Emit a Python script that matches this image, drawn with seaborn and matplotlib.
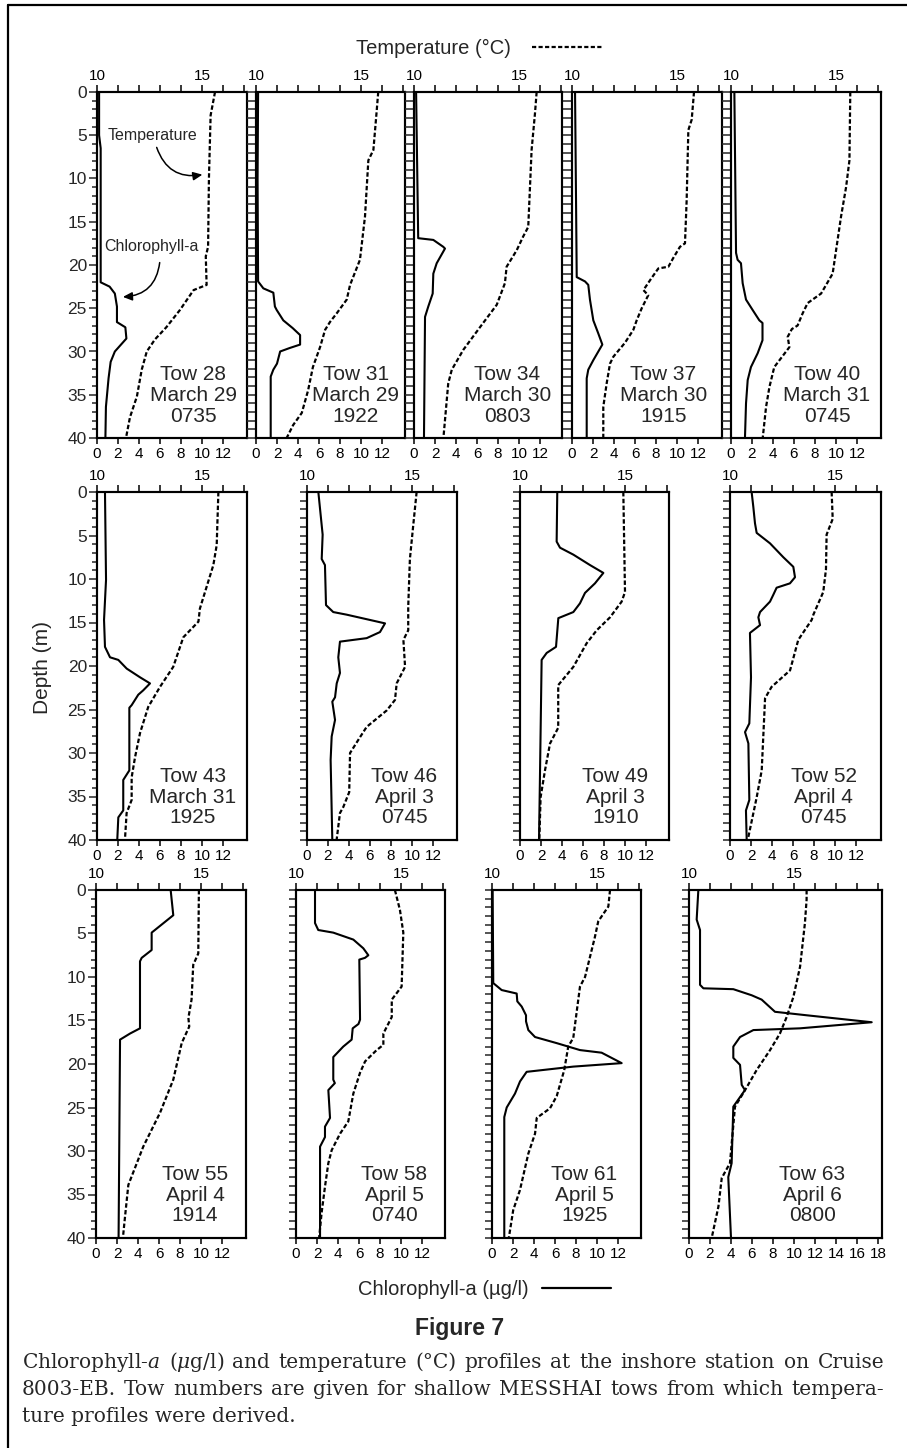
import numpy as np
import matplotlib
matplotlib.use("Agg")
import matplotlib.pyplot as plt
from matplotlib.lines import Line2D
import seaborn as sns

sns.set_style("ticks")
plt.rcParams["font.family"] = ["Liberation Sans", "DejaVu Sans"]
plt.rcParams["lines.scale_dashes"] = False
plt.rcParams["mathtext.fontset"] = "custom"
plt.rcParams["mathtext.rm"] = "DejaVu Serif"
plt.rcParams["mathtext.it"] = "DejaVu Serif:italic"

# ---------------------------------------------------------------- data
tows = [28, 31, 34, 37, 40, 43, 46, 49, 52, 55, 58, 61, 63]
dates = ["March 29", "March 29", "March 30", "March 30", "March 31",
         "March 31", "April 3", "April 3", "April 4",
         "April 4", "April 5", "April 5", "April 6"]
times = ["0735", "1922", "0803", "1915", "0745",
         "1925", "0745", "1910", "0745",
         "1914", "0740", "1925", "0800"]

# chlorophyll-a (ug/l) and temperature (C) against depth (m)
t28_chl_z = [0, 5, 6.5, 22.0, 22.5, 23.3, 24.8, 26.6, 27.2, 28.5, 30.0, 31.2, 33.1, 36.4, 40]
t28_chl = [0.2, 0.2, 0.35, 0.35, 1.2, 1.7, 1.9, 1.9, 2.7, 2.8, 1.7, 1.3, 1.1, 0.85, 0.8]
t28_temp_z = [0, 2.7, 10, 17.9, 19.0, 22.3, 22.9, 25.2, 27.2, 28.6, 30.0, 32.1, 35.2, 37.6, 40]
t28_temp = [15.62, 15.41, 15.33, 15.29, 15.18, 15.22, 14.6, 13.95, 13.3, 12.76, 12.37, 12.13, 11.9, 11.57, 11.38]

t31_chl_z = [0, 10, 21.9, 22.7, 23.2, 24.8, 25.2, 26.4, 27.3, 28.1, 29.2, 29.6, 30.0, 31.4, 32.1, 32.9, 40]
t31_chl = [0.2, 0.15, 0.2, 0.7, 1.65, 1.8, 1.97, 2.6, 3.5, 4.2, 4.2, 3.2, 2.3, 2.0, 1.65, 1.4, 1.4]
t31_temp_z = [0, 2.1, 6.7, 7.9, 14.4, 19.4, 22.3, 24.0, 25.6, 26.6, 27.5, 29.5, 31.8, 34.5, 37.1, 38.5, 40]
t31_temp = [15.82, 15.75, 15.59, 15.35, 15.19, 14.95, 14.48, 14.32, 13.84, 13.52, 13.29, 13.05, 12.71, 12.48, 12.18, 11.77, 11.46]

t34_chl_z = [0, 16.9, 17.1, 17.9, 18.1, 19.8, 21.0, 23.3, 24.8, 26.0, 40]
t34_chl = [0.2, 0.4, 1.84, 2.79, 2.95, 2.16, 1.84, 1.78, 1.36, 1.05, 0.95]
t34_temp_z = [0, 2.5, 6.7, 15.6, 16.7, 18.3, 20.2, 22.1, 24.6, 27.2, 29.8, 32.1, 33.7, 40]
t34_temp = [15.84, 15.76, 15.6, 15.44, 15.2, 14.89, 14.41, 14.33, 13.94, 13.14, 12.35, 11.8, 11.63, 11.4]

t37_chl_z = [0, 21.4, 21.9, 22.3, 24.0, 26.4, 27.9, 29.2, 31.0, 32.1, 33.1, 40]
t37_chl = [0.29, 0.45, 1.24, 1.55, 1.71, 2.03, 2.5, 2.89, 2.03, 1.55, 1.4, 1.4]
t37_temp_z = [0, 3.2, 4.4, 12.5, 17.5, 17.9, 19.2, 20.2, 20.4, 21.5, 22.9, 23.5, 25.0, 26.4, 27.5,
              29.0, 30.6, 31.4, 33.7, 36.4, 40]
t37_temp = [15.81, 15.7, 15.54, 15.46, 15.38, 15.14, 14.82, 14.59, 14.11, 13.79, 13.4, 13.63, 13.32,
            13.08, 12.92, 12.52, 11.97, 11.81, 11.65, 11.49, 11.49]

t40_chl_z = [0, 18.6, 19.4, 19.8, 22.1, 24.0, 25.2, 26.4, 26.7, 28.7, 30.2, 31.8, 33.3, 36.0, 40]
t40_chl = [0.32, 0.48, 0.63, 0.95, 1.11, 1.43, 2.06, 2.7, 3.0, 3.0, 2.54, 1.9, 1.59, 1.43, 1.33]
t40_temp_z = [0, 7.9, 11.0, 14.4, 21.0, 23.3, 24.4, 25.6, 27.0, 27.4, 28.3, 29.5, 31.8, 34.1, 36.4, 40]
t40_temp = [15.68, 15.64, 15.48, 15.24, 14.84, 14.29, 13.65, 13.41, 13.17, 12.9, 12.7, 12.78, 12.06,
            11.83, 11.67, 11.51]

t43_chl_z = [0, 10.1, 14.7, 17.8, 19.0, 19.3, 20.3, 21.3, 22.0, 22.8, 23.3, 24.5, 24.8, 32.0, 33.1,
             36.6, 37.4, 40]
t43_chl = [0.76, 0.86, 0.67, 0.76, 1.24, 2.03, 2.83, 4.1, 5.05, 4.4, 3.93, 3.3, 3.08, 3.08, 2.5,
           2.5, 2.03, 1.93]
t43_temp_z = [0, 6.1, 8.4, 13.4, 14.9, 16.7, 20.1, 22.4, 24.7, 27.7, 30.5, 32.8, 35.4, 36.9, 40]
t43_temp = [15.78, 15.7, 15.54, 14.9, 14.83, 14.11, 13.63, 13.0, 12.44, 12.05, 11.81, 11.65, 11.65,
            11.41, 11.33]

t46_chl_z = [0, 4.9, 7.7, 8.4, 13.0, 13.8, 14.1, 15.1, 16.1, 16.8, 17.2, 19.0, 20.8, 22.0, 23.6,
             24.1, 26.2, 28.1, 30.8, 40]
t46_chl = [1.08, 1.49, 1.4, 1.71, 1.81, 2.5, 3.78, 7.43, 6.95, 5.68, 3.14, 2.98, 3.14, 2.83, 2.67,
           2.41, 2.67, 2.35, 2.25, 2.41]
t46_temp_z = [0, 3.8, 7.7, 13.2, 15.9, 17.0, 20.1, 22.0, 23.9, 25.1, 27.0, 28.2, 30.0, 34.5, 36.2,
              36.9, 40]
t46_temp = [15.22, 15.06, 14.9, 14.82, 14.82, 14.59, 14.67, 14.27, 14.19, 13.8, 12.84, 12.52, 12.05,
            12.01, 11.73, 11.57, 11.41]

t49_chl_z = [0, 5.7, 6.4, 7.2, 8.4, 9.3, 10.5, 11.6, 12.8, 13.8, 14.5, 17.8, 18.5, 19.3, 32.8, 40]
t49_chl = [3.55, 3.49, 3.81, 5.08, 6.67, 7.94, 7.14, 6.19, 5.71, 5.08, 3.65, 3.43, 2.54, 2.06, 1.9, 1.81]
t49_temp_z = [0, 11.5, 12.6, 14.4, 15.9, 17.4, 20.1, 22.2, 27.1, 28.9, 32.0, 35.1, 40]
t49_temp = [14.92, 15.0, 14.84, 14.29, 13.65, 13.17, 12.54, 11.82, 11.82, 11.43, 11.19, 10.98, 10.92]

t52_chl_z = [0, 1.7, 3.6, 4.7, 5.9, 7.5, 8.6, 9.8, 10.5, 11.0, 11.8, 12.6, 13.8, 14.4, 15.3, 16.2,
             21.3, 26.6, 27.6, 28.9, 35.4, 36.6, 40]
t52_chl = [2.06, 2.22, 2.38, 2.54, 3.81, 5.08, 6.03, 6.19, 5.71, 4.44, 4.13, 3.81, 2.86, 2.7, 2.86,
           1.9, 2.0, 1.84, 1.43, 1.75, 1.84, 1.52, 1.59]
t52_temp_z = [0, 3.1, 4.9, 8.9, 11.5, 14.1, 14.7, 17.0, 20.5, 22.4, 23.7, 32.0, 35.1, 39.7, 40]
t52_temp = [14.84, 14.89, 14.6, 14.57, 14.44, 13.97, 13.89, 13.25, 12.86, 11.98, 11.67, 11.51, 11.27,
            10.87, 10.79]

t55_chl_z = [0, 2.9, 4.9, 6.9, 7.8, 8.2, 15.9, 16.5, 17.2, 40]
t55_chl = [7.11, 7.36, 5.3, 5.3, 4.35, 4.19, 4.19, 3.24, 2.29, 2.15]
t55_temp_z = [0, 7.3, 8.6, 12.6, 14.7, 15.7, 17.6, 21.8, 25.6, 29.5, 33.9, 37.6, 40]
t55_temp = [14.9, 14.87, 14.63, 14.55, 14.4, 14.44, 14.08, 13.68, 13.05, 12.25, 11.54, 11.38, 11.28]

t58_chl_z = [0, 3.8, 4.6, 4.9, 5.7, 6.7, 7.5, 7.8, 8.0, 14.9, 15.4, 15.9, 17.2, 18.0, 19.2, 21.8,
             22.2, 23.0, 26.2, 27.2, 28.4, 29.5, 40]
t58_chl = [1.81, 1.81, 2.12, 3.55, 5.46, 6.41, 6.89, 6.57, 6.03, 6.1, 5.95, 5.4, 5.3, 4.5, 3.55, 3.55,
           3.7, 3.08, 3.24, 2.76, 2.76, 2.29, 2.29]
t58_temp_z = [0, 2.3, 4.9, 11.1, 12.6, 14.6, 16.5, 17.8, 18.4, 19.7, 21.0, 23.4, 26.6, 28.0, 29.9,
              31.4, 34.1, 37.1, 40]
t58_temp = [14.71, 14.95, 15.11, 15.03, 14.56, 14.56, 14.16, 14.16, 13.84, 13.29, 13.05, 12.73, 12.49,
            12.1, 11.7, 11.54, 11.38, 11.22, 11.1]

t61_chl_z = [0, 10.7, 11.5, 11.9, 12.8, 13.4, 14.4, 15.1, 16.1, 16.9, 17.6, 18.4, 18.7, 19.9, 20.3,
             20.9, 22.0, 23.4, 25.0, 26.1, 40]
t61_chl = [0.06, 0.12, 0.92, 2.35, 2.41, 2.83, 3.24, 3.24, 3.46, 4.1, 6.16, 8.38, 10.44, 12.35, 7.74,
           3.3, 2.67, 2.19, 1.4, 1.17, 1.17]
t61_temp_z = [0, 1.9, 3.6, 5.4, 10.0, 11.1, 17.0, 18.0, 20.7, 23.7, 25.1, 26.2, 28.0, 30.3, 34.5,
              36.8, 40]
t61_temp = [15.62, 15.54, 15.06, 14.9, 14.43, 14.19, 13.87, 13.63, 13.44, 13.08, 12.76, 12.13, 12.05,
            11.73, 11.33, 11.01, 10.8]

t63_chl_z = [0, 3.4, 4.6, 10.9, 11.3, 11.4, 12.1, 12.6, 14.0, 14.4, 15.2, 15.9, 16.1, 16.9, 18.0,
             19.3, 20.1, 22.4, 23.0, 24.9, 31.4, 33.0, 40]
t63_chl = [0.89, 0.73, 1.05, 1.05, 1.37, 4.22, 5.97, 6.92, 8.19, 11.21, 17.4, 10.57, 6.13, 4.86,
           4.22, 4.22, 4.86, 5.02, 5.33, 4.22, 4.06, 3.74, 4.0]
t63_temp_z = [0, 1.1, 3.8, 8.8, 12.3, 14.6, 16.5, 18.4, 20.7, 23.0, 24.9, 31.4, 33.1, 36.4, 40]
t63_temp = [15.6, 15.6, 15.52, 15.29, 14.97, 14.65, 14.33, 13.86, 13.22, 12.67, 12.19, 11.95, 11.56,
            11.4, 11.08]

profiles = [
    (t28_chl_z, t28_chl, t28_temp_z, t28_temp),
    (t31_chl_z, t31_chl, t31_temp_z, t31_temp),
    (t34_chl_z, t34_chl, t34_temp_z, t34_temp),
    (t37_chl_z, t37_chl, t37_temp_z, t37_temp),
    (t40_chl_z, t40_chl, t40_temp_z, t40_temp),
    (t43_chl_z, t43_chl, t43_temp_z, t43_temp),
    (t46_chl_z, t46_chl, t46_temp_z, t46_temp),
    (t49_chl_z, t49_chl, t49_temp_z, t49_temp),
    (t52_chl_z, t52_chl, t52_temp_z, t52_temp),
    (t55_chl_z, t55_chl, t55_temp_z, t55_temp),
    (t58_chl_z, t58_chl, t58_temp_z, t58_temp),
    (t61_chl_z, t61_chl, t61_temp_z, t61_temp),
    (t63_chl_z, t63_chl, t63_temp_z, t63_temp),
]
chl_tick_top = [12] * 12 + [18]

# ---------------------------------------------------------------- layout (pixels)
W, H = 907, 1448
PX = 0.72                 # points per pixel at 100 dpi
PX_PER_CHL = 10.5         # 1 ug/l = 10.5 px, 1 degC = 2 ug/l
rows = [
    dict(top=92, bottom=438, lefts=[97, 256, 414, 572, 731], widths=[150, 149, 148, 150, 150], tick=9),
    dict(top=492, bottom=840, lefts=[97, 307, 520, 730], widths=[150, 150, 149, 151], tick=7),
    dict(top=890, bottom=1238, lefts=[96, 296, 492, 689], widths=[150, 149, 149, 193], tick=7),
]
label_xfrac = [0.64, 0.67, 0.63, 0.61, 0.64, 0.64, 0.65, 0.64, 0.62, 0.66, 0.66, 0.62, 0.64]

fig = plt.figure(figsize=(W / 100, H / 100), dpi=100)
fig.patch.set_facecolor("white")

SPINE_W = 1.5
axes_list = []
k = 0
for row in rows:
    height = row["bottom"] - row["top"]
    for j, (left, width) in enumerate(zip(row["lefts"], row["widths"])):
        ax = fig.add_axes([left / W, 1 - row["bottom"] / H, width / W, height / H])
        chl_z, chl, temp_z, temp = profiles[k]
        chl_max = width / PX_PER_CHL
        axt = ax.twiny()

        sns.lineplot(x=chl, y=chl_z, sort=False, estimator=None, color="black",
                     lw=1.5, ax=ax)
        sns.lineplot(x=temp, y=temp_z, sort=False, estimator=None, color="black",
                     lw=1.6, linestyle=(0, (3.2, 1.7)), ax=axt)

        ax.set_xlim(0, chl_max)
        axt.set_xlim(10, 10 + chl_max / 2)
        ax.set_ylim(40, 0)
        ax.set_xlabel("")
        ax.set_ylabel("")
        axt.set_xlabel("")
        axt.set_ylabel("")

        for a in (ax, axt):
            for s in a.spines.values():
                s.set_visible(True)
                s.set_linewidth(SPINE_W)
                s.set_color("black")
            a.grid(False)

        # chlorophyll axis (bottom)
        ax.set_xticks(np.arange(0, chl_tick_top[k] + 1, 2))
        ax.set_xticklabels([str(v) for v in range(0, chl_tick_top[k] + 1, 2)])
        ax.tick_params(axis="x", direction="out", length=6 * PX, width=1.1,
                       labelsize=11, pad=2.5, colors="black")

        # temperature axis (top)
        t_ticks = np.arange(10, int(10 + chl_max / 2 + 1e-6) + 1)
        axt.set_xticks(t_ticks)
        axt.set_xticklabels([str(t) if t in (10, 15) else "" for t in t_ticks])
        axt.tick_params(axis="x", direction="out", length=7 * PX, width=1.1,
                        labelsize=11, pad=1.5, colors="black")

        # depth axis
        if j == 0:
            ax.set_yticks(np.arange(0, 41, 5))
            ax.set_yticklabels([str(v) for v in range(0, 41, 5)])
            ax.set_yticks(np.arange(0, 41, 1), minor=True)
            ax.tick_params(axis="y", which="major", direction="out", length=8 * PX,
                           width=1.1, labelsize=12.5, pad=1.5)
            ax.tick_params(axis="y", which="minor", direction="out", length=5 * PX,
                           width=1.1)
        else:
            ax.set_yticks(np.arange(0, 41, 1))
            ax.set_yticklabels([])
            ax.tick_params(axis="y", which="major", direction="out",
                           length=row["tick"] * PX, width=1.1)

        ax.text(label_xfrac[k], 0.123, f"Tow {tows[k]}\n{dates[k]}\n{times[k]}",
                transform=ax.transAxes, ha="center", va="center",
                multialignment="center", fontsize=15, linespacing=1.12)
        axes_list.append(ax)
        k += 1

# curve labels inside the first panel
ax0 = axes_list[0]
ax0.text(5.3, 5.0, "Temperature", fontsize=11.5, ha="center", va="center")
ax0.annotate("", xy=(10.3, 9.5), xytext=(5.6, 6.1),
             arrowprops=dict(arrowstyle="-|>,head_length=0.55,head_width=0.25",
                             connectionstyle="arc3,rad=0.45", color="black", lw=1.1))
ax0.text(5.2, 17.9, "Chlorophyll-a", fontsize=11.5, ha="center", va="center")
ax0.annotate("", xy=(2.2, 23.7), xytext=(6.0, 19.4),
             arrowprops=dict(arrowstyle="-|>,head_length=0.55,head_width=0.25",
                             connectionstyle="arc3,rad=-0.45", color="black", lw=1.1))

# ---------------------------------------------------------------- figure texts
def fx(px):
    return px / W


def fy(px):
    return 1 - px / H


fig.text(fx(356), fy(54), "Temperature (°C)", fontsize=14.5, ha="left", va="baseline")
fig.add_artist(Line2D([fx(532), fx(602)], [fy(47), fy(47)], transform=fig.transFigure,
                      color="black", lw=1.6, linestyle=(0, (3.0, 1.7))))

fig.text(fx(43), fy(667), "Depth (m)", fontsize=15, rotation=90, ha="center", va="center")

fig.text(fx(529), fy(1295), "Chlorophyll-a (µg/l)", fontsize=14.5, ha="right", va="baseline")
fig.add_artist(Line2D([fx(542), fx(611)], [fy(1288), fy(1288)], transform=fig.transFigure,
                      color="black", lw=1.6))

fig.text(fx(460), fy(1335), "Figure 7", fontsize=16.5, fontweight="bold",
         ha="center", va="baseline")

# caption, justified across the text block
caption_lines = [
    "Chlorophyll-$\\mathit{a}$ ($\\mathit{\\mu}$g/l) and temperature (°C) profiles at the inshore station on Cruise",
    "8003-EB. Tow numbers are given for shallow MESSHAI tows from which tempera-",
    "ture profiles were derived.",
]
caption_base = [1368, 1395, 1422]
CAP_X0, CAP_X1 = 22, 884
renderer = fig.canvas.get_renderer()
cap_kw = dict(fontsize=14.5, family=["DejaVu Serif"], va="baseline", ha="left")
for i, (line, yb) in enumerate(zip(caption_lines, caption_base)):
    if i < len(caption_lines) - 1:
        words = line.split(" ")
        arts = [fig.text(0, fy(yb), w, **cap_kw) for w in words]
        widths = [a.get_window_extent(renderer).width for a in arts]
        gap = (CAP_X1 - CAP_X0 - sum(widths)) / (len(words) - 1)
        x = CAP_X0
        for a, wd in zip(arts, widths):
            a.set_x(fx(x))
            x += wd + gap
    else:
        fig.text(fx(CAP_X0), fy(yb), line, **cap_kw)

# page frame
fig.add_artist(Line2D([fx(8), fx(907)], [fy(5), fy(5)], transform=fig.transFigure,
                      color="black", lw=1.6))
fig.add_artist(Line2D([fx(8), fx(8)], [fy(5), fy(1448)], transform=fig.transFigure,
                      color="black", lw=1.6))

fig.savefig("out.png", dpi=100, facecolor="white")
